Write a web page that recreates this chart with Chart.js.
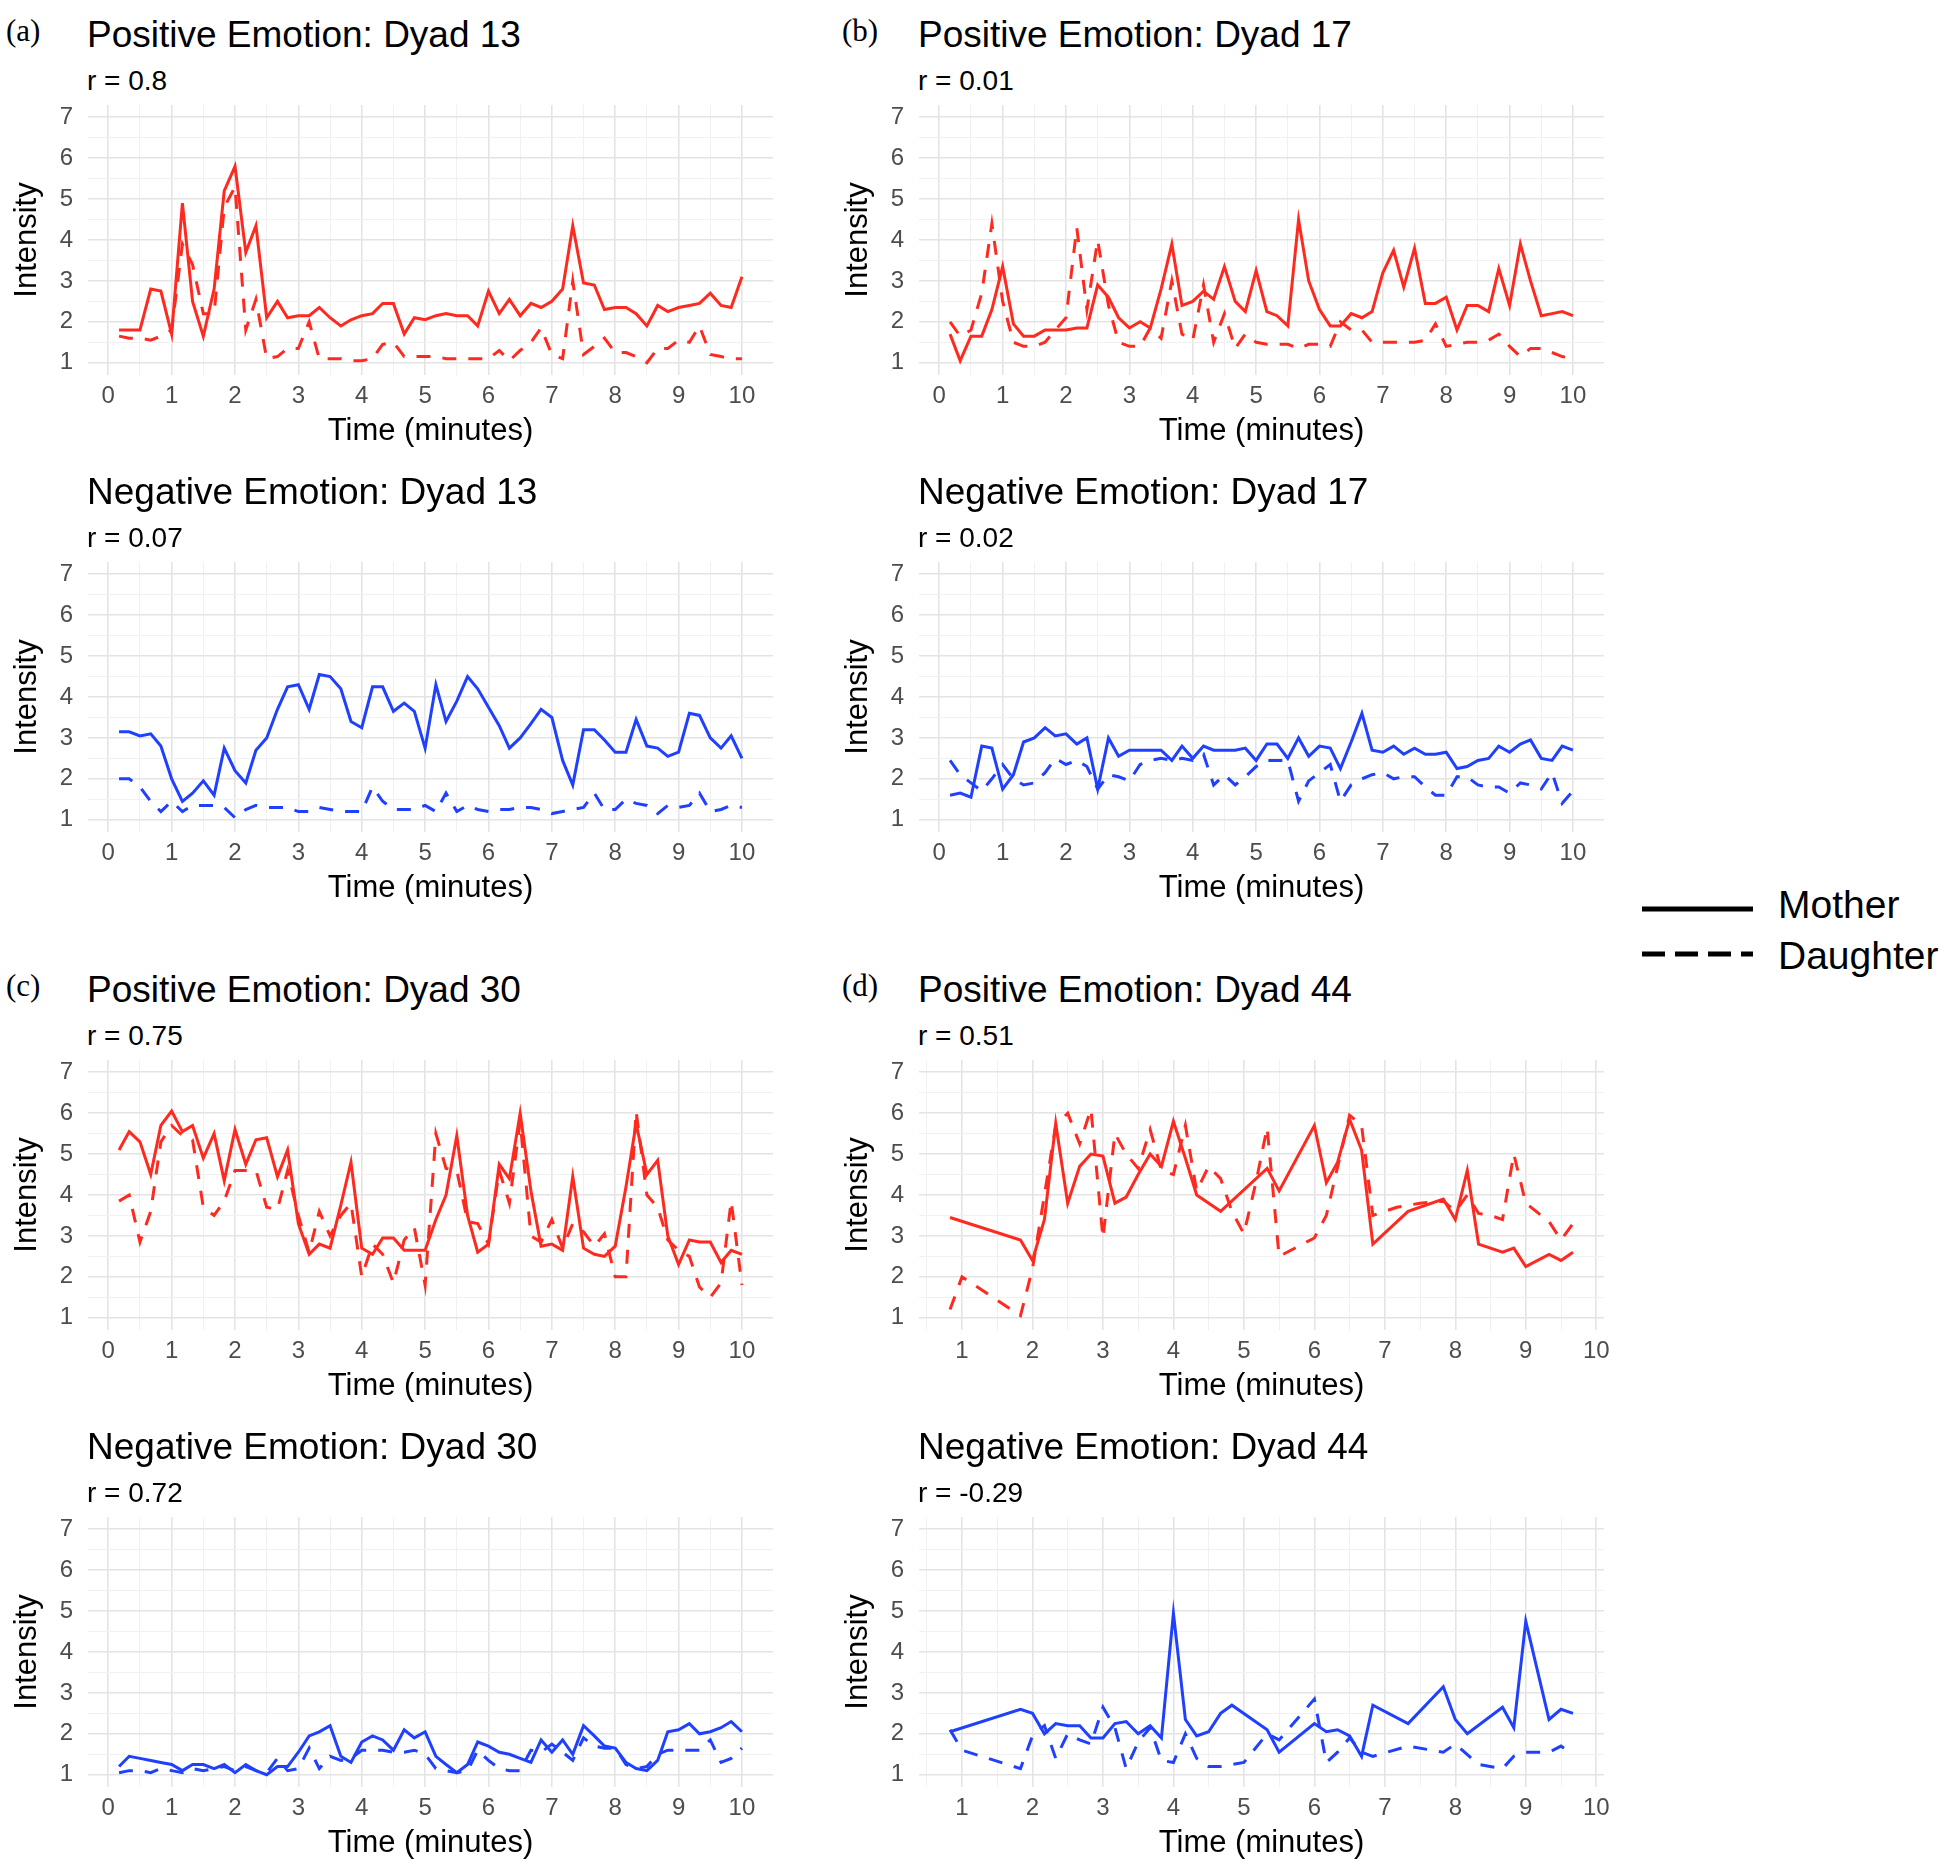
<!DOCTYPE html>
<html>
<head>
<meta charset="utf-8">
<script src="https://cdn.jsdelivr.net/npm/chart.js@4.4.0/dist/chart.umd.min.js"></script>
<style>
  body { margin: 0; background: #fff; width: 1950px; height: 1872px; position: relative; overflow: hidden;
         font-family: "Liberation Sans", Arial, Helvetica, sans-serif; }
  .box { position: absolute; width: 790px; height: 460px; }
  .box canvas { position: absolute; left: 0; top: 90px; }
  .tag { position: absolute; top: 15px; font-family: "Liberation Serif", "Times New Roman", serif; font-size: 31px; line-height: 1; }
  .ttl { position: absolute; left: 87px; top: 16px; font-size: 37px; line-height: 1; white-space: nowrap; }
  .sub { position: absolute; left: 87px; top: 67px; font-size: 28px; line-height: 1; white-space: nowrap; }
  .leg { position: absolute; left: 1778px; font-size: 39px; line-height: 1; }
</style>
</head>
<body>
<svg style="position:absolute;left:1630px;top:880px" width="140" height="100">
  <line x1="12" y1="29" x2="123" y2="29" stroke="#000" stroke-width="5"/>
  <line x1="12" y1="74" x2="123" y2="74" stroke="#000" stroke-width="5" stroke-dasharray="23 10"/>
</svg>
<div class="leg" style="top:885px">Mother</div>
<div class="leg" style="top:936px">Daughter</div>

<script>
// time points (minutes), one every 10 s
var TIME = [0.17,0.33,0.5,0.67,0.83,1,1.17,1.33,1.5,1.67,1.83,2,2.17,2.33,2.5,2.67,2.83,3,3.17,3.33,
            3.5,3.67,3.83,4,4.17,4.33,4.5,4.67,4.83,5,5.17,5.33,5.5,5.67,5.83,6,6.17,6.33,6.5,6.67,
            6.83,7,7.17,7.33,7.5,7.67,7.83,8,8.17,8.33,8.5,8.67,8.83,9,9.17,9.33,9.5,9.67,9.83,10];

var Y_TICKS = [1,2,3,4,5,6,7];
var Y_MINOR = [1.5,2.5,3.5,4.5,5.5,6.5];
var X_TICKS = [0,1,2,3,4,5,6,7,8,9,10];
var X_MINOR = [0.5,1.5,2.5,3.5,4.5,5.5,6.5,7.5,8.5,9.5];
var X_TICKS_44 = [1,2,3,4,5,6,7,8,9,10];
var X_MINOR_44 = [0.5,1.5,2.5,3.5,4.5,5.5,6.5,7.5,8.5,9.5];

// Dyad 13
var posMother13 = [1.8,1.8,1.8,2.8,2.75,1.7,4.9,2.5,1.65,2.8,5.2,5.8,3.7,4.35,2.1,2.5,2.1,2.15,2.15,2.35,
                   2.1,1.9,2.05,2.15,2.2,2.45,2.45,1.7,2.1,2.05,2.15,2.2,2.15,2.15,1.9,2.75,2.2,2.55,2.15,2.45,
                   2.35,2.5,2.8,4.35,2.95,2.9,2.3,2.35,2.35,2.2,1.9,2.4,2.25,2.35,2.4,2.45,2.7,2.4,2.35,3.1];
var posDaughter13 = [1.65,1.6,1.6,1.55,1.65,1.8,3.9,3.4,2.2,2.2,4.8,5.3,1.8,2.55,1.1,1.15,1.35,1.35,2.0,1.1,
                     1.1,1.1,1.05,1.05,1.1,1.45,1.5,1.15,1.15,1.15,1.15,1.1,1.1,1.1,1.1,1.1,1.3,1.05,1.3,1.5,
                     1.85,1.2,1.1,3.0,1.2,1.4,1.6,1.25,1.25,1.15,1.0,1.35,1.35,1.55,1.5,1.9,1.2,1.15,1.1,1.1];
var negMother13 = [3.15,3.15,3.05,3.1,2.8,2.0,1.45,1.65,1.95,1.6,2.75,2.2,1.9,2.7,3.0,3.7,4.25,4.3,3.7,4.55,
                   4.5,4.2,3.4,3.25,4.25,4.25,3.65,3.85,3.65,2.75,4.3,3.4,3.9,4.5,4.2,3.75,3.3,2.75,3.0,3.35,
                   3.7,3.5,2.45,1.85,3.2,3.2,2.95,2.65,2.65,3.45,2.8,2.75,2.55,2.65,3.6,3.55,3.0,2.75,3.05,2.5];
var negDaughter13 = [2.0,2.0,1.8,1.45,1.2,1.45,1.2,1.35,1.35,1.35,1.3,1.05,1.25,1.35,1.3,1.3,1.3,1.2,1.2,1.3,
                     1.25,1.2,1.2,1.2,1.8,1.45,1.25,1.25,1.25,1.35,1.2,1.65,1.2,1.35,1.25,1.2,1.25,1.25,1.3,1.3,
                     1.25,1.15,1.2,1.25,1.3,1.65,1.25,1.25,1.5,1.4,1.35,1.15,1.35,1.3,1.35,1.65,1.2,1.25,1.35,1.3];

// Dyad 17
var posMother17 = [1.7,1.05,1.65,1.65,2.3,3.35,1.95,1.65,1.65,1.8,1.8,1.8,1.85,1.85,2.9,2.6,2.1,1.85,2.0,1.85,
                   2.8,3.9,2.4,2.5,2.75,2.55,3.35,2.5,2.25,3.25,2.25,2.15,1.9,4.5,3.0,2.3,1.9,1.9,2.2,2.1,
                   2.25,3.2,3.75,2.85,3.8,2.45,2.45,2.6,1.8,2.4,2.4,2.25,3.3,2.4,3.9,3.0,2.15,2.2,2.25,2.15];
var posDaughter17 = [2.0,1.65,1.8,2.7,4.4,2.5,1.5,1.4,1.4,1.5,1.8,2.1,4.3,2.3,4.0,2.4,1.5,1.4,1.4,1.85,
                     1.6,3.0,1.7,1.55,2.9,1.5,2.2,1.35,1.7,1.5,1.45,1.45,1.45,1.35,1.45,1.45,1.4,2.0,1.8,1.8,
                     1.5,1.5,1.5,1.5,1.5,1.55,1.95,1.4,1.45,1.5,1.5,1.55,1.7,1.4,1.15,1.35,1.35,1.25,1.15,1.1];
var negMother17 = [1.6,1.65,1.55,2.8,2.75,1.75,2.1,2.9,3.0,3.25,3.05,3.1,2.85,3.0,1.75,3.0,2.55,2.7,2.7,2.7,
                   2.7,2.45,2.8,2.5,2.8,2.7,2.7,2.7,2.75,2.45,2.85,2.85,2.5,3.0,2.55,2.8,2.75,2.25,2.9,3.6,
                   2.7,2.65,2.8,2.6,2.75,2.6,2.6,2.65,2.25,2.3,2.45,2.5,2.8,2.65,2.85,2.95,2.5,2.45,2.8,2.7];
var negDaughter17 = [2.45,2.1,1.9,1.7,2.0,2.35,2.0,1.85,1.9,2.15,2.5,2.35,2.45,2.3,1.75,2.1,2.05,1.95,2.35,2.45,
                     2.5,2.45,2.5,2.45,2.6,1.85,2.1,1.85,2.05,2.3,2.45,2.45,2.45,1.45,1.95,2.15,2.35,1.45,1.85,2.0,
                     2.1,2.15,2.0,2.05,2.05,1.8,1.6,1.6,2.05,2.05,1.85,1.8,1.8,1.65,1.9,1.85,1.75,2.15,1.4,1.7];

// Dyad 30
var posMother30 = [5.1,5.55,5.3,4.5,5.7,6.05,5.55,5.7,4.9,5.5,4.35,5.6,4.75,5.35,5.4,4.45,5.1,3.3,2.55,2.8,
                   2.7,3.75,4.8,2.7,2.55,2.95,2.95,2.65,2.65,2.65,3.4,4.0,5.45,3.5,2.6,2.8,4.75,4.4,6.0,4.1,
                   2.75,2.8,2.65,4.45,2.7,2.55,2.5,2.75,4.2,5.75,4.5,4.85,3.0,2.3,2.9,2.85,2.85,2.35,2.65,2.55];
var posDaughter30 = [3.85,4.0,2.85,3.6,5.3,5.7,5.45,5.35,3.7,3.5,3.85,4.6,4.6,4.6,3.7,3.65,4.6,3.5,2.6,3.6,
                     3.0,3.5,3.8,2.0,2.8,2.55,1.85,2.9,3.2,1.8,5.5,4.65,4.6,3.35,3.3,2.8,4.6,3.8,5.8,3.0,
                     2.85,3.4,2.7,3.3,3.1,2.75,3.05,2.0,2.0,6.05,4.0,3.7,2.9,2.65,2.5,1.75,1.5,1.85,3.85,1.8];
var negMother30 = [1.2,1.45,1.4,1.35,1.3,1.25,1.1,1.25,1.25,1.15,1.25,1.05,1.25,1.1,1.0,1.2,1.2,1.55,1.95,2.05,
                   2.2,1.45,1.3,1.8,1.95,1.85,1.6,2.1,1.9,2.05,1.45,1.25,1.05,1.25,1.8,1.7,1.55,1.5,1.4,1.3,
                   1.85,1.55,1.85,1.5,2.2,1.95,1.7,1.65,1.3,1.15,1.1,1.35,2.05,2.1,2.25,2.0,2.05,2.15,2.3,2.05];
var negDaughter30 = [1.05,1.1,1.1,1.05,1.15,1.1,1.05,1.15,1.1,1.15,1.2,1.1,1.2,1.1,1.05,1.4,1.1,1.15,1.65,1.15,
                     1.45,1.35,1.4,1.6,1.6,1.6,1.55,1.55,1.6,1.5,1.15,1.1,1.05,1.1,1.6,1.35,1.15,1.1,1.1,1.6,
                     1.55,1.75,1.55,1.35,1.9,1.7,1.65,1.65,1.25,1.15,1.2,1.5,1.6,1.6,1.6,1.6,1.85,1.3,1.4,1.65];

// Dyad 44 (irregular time points)
var pos44MotherT = [0.83,1.83,2,2.17,2.33,2.5,2.67,2.83,3,3.17,3.33,3.5,3.67,3.83,4,4.17,4.33,4.67,5.33,5.5,
                    6,6.17,6.33,6.5,6.67,6.83,7.33,7.83,8,8.17,8.33,8.67,8.83,9,9.33,9.5,9.67];
var pos44MotherY = [3.45,2.9,2.4,3.4,5.75,3.8,4.7,5.0,4.95,3.8,3.95,4.5,5.0,4.7,5.8,4.9,4.0,3.6,4.65,4.1,
                    5.7,4.3,4.8,5.85,5.1,2.8,3.6,3.9,3.4,4.6,2.8,2.6,2.7,2.25,2.55,2.4,2.6];
var pos44DaughterT = [0.83,1,1.83,2,2.33,2.5,2.67,2.83,3,3.17,3.33,3.5,3.67,3.83,4,4.17,4.33,4.5,4.67,4.83,
                      5,5.17,5.33,5.5,6,6.17,6.5,6.67,6.83,7.17,7.5,7.83,8,8.17,8.33,8.5,8.67,8.83,9,9.33,9.5,9.67];
var pos44DaughterY = [1.2,2.0,1.05,2.2,5.7,6.0,5.25,6.1,2.95,5.5,5.0,4.65,5.6,4.6,4.5,5.7,4.1,4.7,4.4,3.6,
                      3.05,4.3,5.65,2.5,2.95,3.5,5.95,5.7,3.5,3.7,3.8,3.85,3.6,4.0,3.55,3.5,3.4,5.0,3.8,3.35,2.9,3.3];
var neg44MotherT = [0.83,1.83,2,2.17,2.33,2.5,2.67,2.83,3,3.17,3.33,3.5,3.67,3.83,4,4.17,4.33,4.5,4.67,4.83,
                    5.33,5.5,6,6.17,6.33,6.5,6.67,6.83,7.33,7.83,8,8.17,8.67,8.83,9,9.33,9.5,9.67];
var neg44MotherY = [2.05,2.6,2.5,2.0,2.25,2.2,2.2,1.9,1.9,2.25,2.3,2.0,2.2,1.9,4.95,2.35,1.95,2.05,2.5,2.7,
                    2.1,1.55,2.25,2.05,2.1,1.95,1.45,2.7,2.25,3.15,2.35,2.0,2.65,2.15,4.75,2.35,2.6,2.5];
var neg44DaughterT = [0.83,1,1.83,2,2.17,2.33,2.5,2.67,2.83,3,3.17,3.33,3.5,3.67,3.83,4,4.17,4.33,4.5,4.67,
                      4.83,5,5.33,5.5,6,6.17,6.33,6.5,6.67,6.83,7.33,7.83,8,8.33,8.67,8.83,9,9.33,9.5,9.67];
var neg44DaughterY = [2.1,1.6,1.15,1.95,2.2,1.4,2.0,1.85,1.75,2.65,2.15,1.15,1.8,2.15,1.35,1.3,2.0,1.4,1.2,1.2,
                      1.25,1.3,2.0,1.85,2.85,1.3,1.55,1.9,1.55,1.45,1.7,1.55,1.75,1.25,1.15,1.45,1.55,1.55,1.7,1.5];

var RED = '#FF2A1F';
var BLUE = '#2040FF';
var COL_X = [0, 831];
var ROW_Y = [0, 457, 955, 1412];

Chart.defaults.font.family = '"Liberation Sans", Arial, Helvetica, sans-serif';

function pts(xs, ys) {
    return ys.map(function (v, i) { return {x: xs[i], y: v}; });
}

function gridColor(ctx) {
    return Number.isInteger(ctx.tick.value) ? '#E4E4E4' : '#F1F1F1';
}
function gridWidth(ctx) {
    return Number.isInteger(ctx.tick.value) ? 1.6 : 1;
}

function panel(col, row, tag, title, r, color, mother, daughter, xmin, xmax, xt, xm) {
    var box = document.createElement('div');
    box.className = 'box';
    box.style.left = COL_X[col] + 'px';
    box.style.top = ROW_Y[row] + 'px';
    var html = '';
    if (tag) html += '<div class="tag" style="left:' + (col ? 11 : 6) + 'px">' + tag + '</div>';
    html += '<div class="ttl">' + title + '</div><div class="sub">r = ' + r + '</div>';
    html += '<canvas width="790" height="370"></canvas>';
    box.innerHTML = html;
    document.body.appendChild(box);
    var ctx = box.querySelector('canvas').getContext('2d');

    var allX = xt.concat(xm).sort(function (a, b) { return a - b; });
    var allY = Y_TICKS.concat(Y_MINOR).sort(function (a, b) { return a - b; });

    new Chart(ctx, {
        type: 'line',
        data: {
            datasets: [
                {label: 'Mother', data: mother, borderColor: color, borderWidth: 3, pointRadius: 0, tension: 0, fill: false},
                {label: 'Daughter', data: daughter, borderColor: color, borderWidth: 3, borderDash: [14, 12], pointRadius: 0, tension: 0, fill: false}
            ]
        },
        options: {
            responsive: false,
            animation: false,
            layout: {padding: {top: 15, right: 17, left: 0, bottom: 0}, autoPadding: false},
            plugins: {legend: {display: false}, tooltip: {enabled: false}},
            scales: {
                x: {
                    type: 'linear', min: xmin, max: xmax,
                    afterBuildTicks: function (ax) { ax.ticks = allX.map(function (v) { return {value: v}; }); },
                    afterFit: function (ax) { ax.height = 85; ax.paddingLeft = 0; ax.paddingRight = 0; },
                    ticks: {autoSkip: false, maxRotation: 0, padding: 7, color: '#4D4D4D', font: {size: 24},
                            callback: function (v) { return xt.indexOf(v) >= 0 ? String(v) : ''; }},
                    grid: {drawTicks: false, color: gridColor, lineWidth: gridWidth},
                    border: {display: false},
                    title: {display: true, text: 'Time (minutes)', color: '#000', font: {size: 31}, padding: {top: 0, bottom: 10}}
                },
                y: {
                    min: 0.7, max: 7.3,
                    afterBuildTicks: function (ax) { ax.ticks = allY.map(function (v) { return {value: v}; }); },
                    // the tick padding would otherwise push the panel down
                    afterFit: function (ax) { ax.width = 88; ax.paddingTop = 0; ax.paddingBottom = 0; },
                    ticks: {autoSkip: false, padding: 15, color: '#4D4D4D', font: {size: 24},
                            callback: function (v) { return Y_TICKS.indexOf(v) >= 0 ? String(v) : ''; }},
                    grid: {drawTicks: false, color: gridColor, lineWidth: gridWidth},
                    border: {display: false},
                    title: {display: true, text: 'Intensity', color: '#000', font: {size: 31}, padding: {top: 9, bottom: 0}}
                }
            }
        }
    });
}

panel(0, 0, '(a)', 'Positive Emotion: Dyad 13', '0.8', RED, pts(TIME, posMother13), pts(TIME, posDaughter13), -0.32, 10.49, X_TICKS, X_MINOR);
panel(0, 1, '', 'Negative Emotion: Dyad 13', '0.07', BLUE, pts(TIME, negMother13), pts(TIME, negDaughter13), -0.32, 10.49, X_TICKS, X_MINOR);
panel(1, 0, '(b)', 'Positive Emotion: Dyad 17', '0.01', RED, pts(TIME, posMother17), pts(TIME, posDaughter17), -0.32, 10.49, X_TICKS, X_MINOR);
panel(1, 1, '', 'Negative Emotion: Dyad 17', '0.02', BLUE, pts(TIME, negMother17), pts(TIME, negDaughter17), -0.32, 10.49, X_TICKS, X_MINOR);
panel(0, 2, '(c)', 'Positive Emotion: Dyad 30', '0.75', RED, pts(TIME, posMother30), pts(TIME, posDaughter30), -0.32, 10.49, X_TICKS, X_MINOR);
panel(0, 3, '', 'Negative Emotion: Dyad 30', '0.72', BLUE, pts(TIME, negMother30), pts(TIME, negDaughter30), -0.32, 10.49, X_TICKS, X_MINOR);
panel(1, 2, '(d)', 'Positive Emotion: Dyad 44', '0.51', RED, pts(pos44MotherT, pos44MotherY), pts(pos44DaughterT, pos44DaughterY), 0.39, 10.11, X_TICKS_44, X_MINOR_44);
panel(1, 3, '', 'Negative Emotion: Dyad 44', '-0.29', BLUE, pts(neg44MotherT, neg44MotherY), pts(neg44DaughterT, neg44DaughterY), 0.39, 10.11, X_TICKS_44, X_MINOR_44);
</script>
</body>
</html>
